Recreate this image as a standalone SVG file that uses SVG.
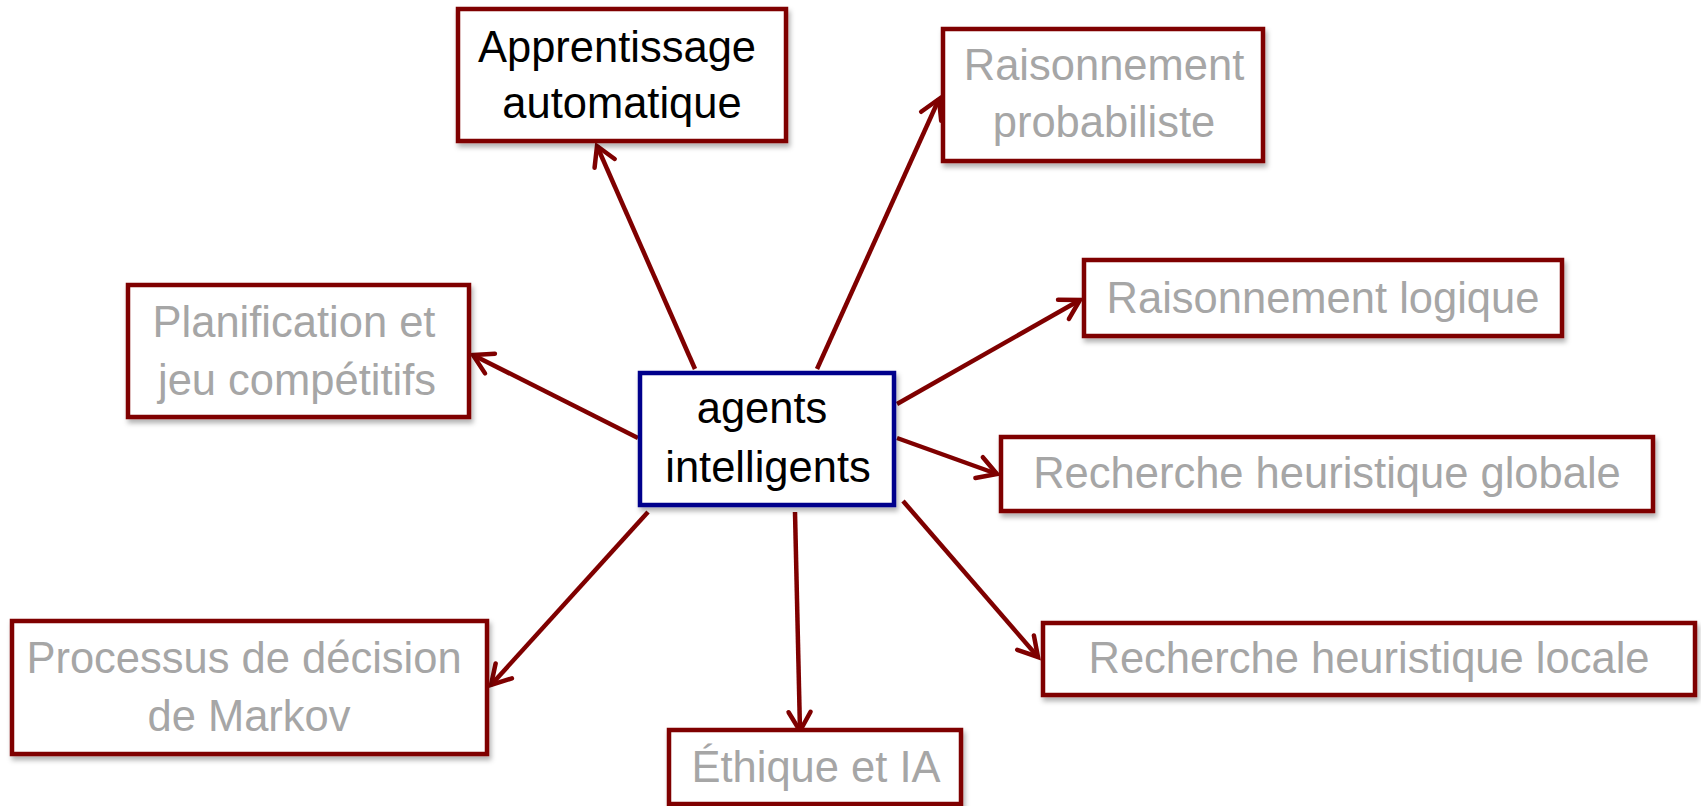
<svg xmlns="http://www.w3.org/2000/svg" width="1701" height="806" viewBox="0 0 1701 806">
  <style>
    .box { fill: #ffffff; stroke: #7f0000; stroke-width: 4.5; filter: url(#shadow); }
    .center { fill: #ffffff; stroke: #00008c; stroke-width: 4.5; filter: url(#shadow); }
    .t { font-family: "Liberation Sans", Arial, sans-serif; font-size: 43.5px; text-anchor: middle; }
    .gray { fill: #a6a6a6; }
    .black { fill: #000000; }
    .conn { stroke: #7f0000; stroke-width: 4.5; fill: none; marker-end: url(#arrow); }
  </style>
  <defs>
    <filter id="shadow" x="-10%" y="-10%" width="125%" height="135%">
      <feDropShadow dx="2" dy="4" stdDeviation="2.5" flood-color="#000000" flood-opacity="0.3"/>
    </filter>
    <marker id="arrow" markerUnits="userSpaceOnUse" markerWidth="30" markerHeight="30" refX="0" refY="0" viewBox="-25 -15 30 30" orient="auto" overflow="visible">
      <path d="M -19,-11 L 0,0 L -19,11" fill="none" stroke="#7f0000" stroke-width="4.5" stroke-linecap="round" stroke-linejoin="miter"/>
    </marker>
  </defs>

  <g id="connectors">
    <line class="conn" x1="695" y1="369" x2="597" y2="146"/>
    <line class="conn" x1="817" y1="369" x2="939" y2="99"/>
    <line class="conn" x1="897" y1="404" x2="1080" y2="300"/>
    <line class="conn" x1="897" y1="438" x2="997" y2="474"/>
    <line class="conn" x1="903" y1="501" x2="1038" y2="657"/>
    <line class="conn" x1="795" y1="512" x2="800" y2="731"/>
    <line class="conn" x1="648" y1="512" x2="491" y2="685"/>
    <line class="conn" x1="638" y1="438" x2="473" y2="355"/>
  </g>

  <g id="node-apprentissage">
    <rect class="box" x="458" y="9" width="328" height="132"/>
    <text class="t black" x="617" y="62">Apprentissage</text>
    <text class="t black" x="622" y="118">automatique</text>
  </g>

  <g id="node-raisonnement-probabiliste">
    <rect class="box" x="943" y="29" width="320" height="132"/>
    <text class="t gray" x="1104" y="80">Raisonnement</text>
    <text class="t gray" x="1104" y="137">probabiliste</text>
  </g>

  <g id="node-raisonnement-logique">
    <rect class="box" x="1084" y="260" width="478" height="76"/>
    <text class="t gray" x="1323" y="313">Raisonnement logique</text>
  </g>

  <g id="node-recherche-globale">
    <rect class="box" x="1001" y="437" width="652" height="74"/>
    <text class="t gray" x="1327" y="488">Recherche heuristique globale</text>
  </g>

  <g id="node-recherche-locale">
    <rect class="box" x="1043" y="623" width="652" height="72"/>
    <text class="t gray" x="1369" y="673">Recherche heuristique locale</text>
  </g>

  <g id="node-planification">
    <rect class="box" x="128" y="285" width="341" height="132"/>
    <text class="t gray" x="294" y="337">Planification et</text>
    <text class="t gray" x="297" y="395">jeu compétitifs</text>
  </g>

  <g id="node-processus">
    <rect class="box" x="12" y="621" width="475" height="133"/>
    <text class="t gray" x="244" y="673">Processus de décision</text>
    <text class="t gray" x="249" y="731">de Markov</text>
  </g>

  <g id="node-ethique">
    <rect class="box" x="669" y="730" width="292" height="74"/>
    <text class="t gray" x="816" y="782">Éthique et IA</text>
  </g>

  <g id="node-agents">
    <rect class="center" x="640" y="373" width="254" height="132"/>
    <text class="t black" x="762" y="423">agents</text>
    <text class="t black" x="768" y="482">intelligents</text>
  </g>
</svg>
